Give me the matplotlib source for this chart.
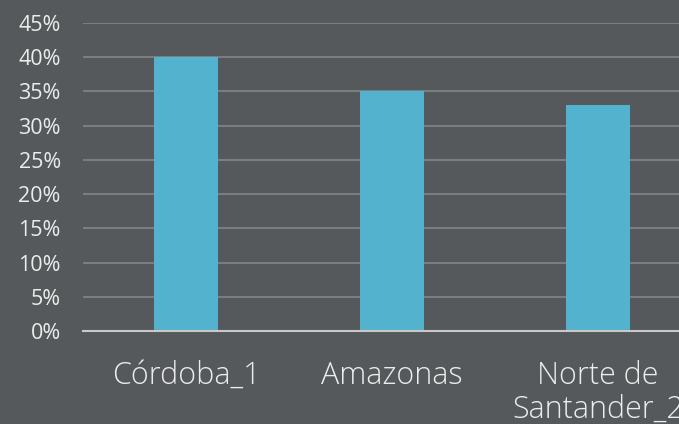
import numpy as np
import matplotlib.pyplot as plt

categories = ['Córdoba_1', 'Amazonas', 'Norte de\nSantander_2']
values = [0.40, 0.35, 0.33]
y_ticks = [0, 0.05, 0.10, 0.15, 0.20, 0.25, 0.30, 0.35, 0.40, 0.45]

bg = '#55595b'
bar_color = '#53b2cd'
text_color = '#ececec'

plt.rcParams['font.family'] = ['Open Sans', 'DejaVu Sans']

fig = plt.figure(figsize=(6.79, 4.24), dpi=100, facecolor=bg)
# the plot area runs past the right edge of the figure, as in the original
ax = fig.add_axes([83 / 679, 1 - 331 / 424, 618 / 679, (331 - 23) / 424])
ax.set_facecolor(bg)

x = np.arange(len(categories))
ax.bar(x, values, width=0.31, color=bar_color, zorder=3)

ax.set_xlim(-0.5, len(categories) - 0.5)
ax.set_ylim(0, 0.45)
ax.set_yticks(y_ticks)
ax.set_yticklabels([f'{int(round(t * 100))}%' for t in y_ticks])
ax.yaxis.grid(True, color='#7b7e80', linewidth=1.5, zorder=0)
ax.set_xticks(x)
ax.set_xticklabels(categories, linespacing=1.07, fontweight='light')

for s in ['top', 'right', 'left']:
    ax.spines[s].set_visible(False)
ax.spines['bottom'].set_color('#c9c9c9')
ax.spines['bottom'].set_linewidth(1.5)
ax.spines['bottom'].set_zorder(4)

ax.tick_params(axis='y', length=0, pad=16, labelsize=15.5, labelcolor=text_color)
ax.tick_params(axis='x', length=0, pad=21, labelsize=22, labelcolor=text_color)

fig.savefig('out.png', dpi=100, facecolor=bg)
